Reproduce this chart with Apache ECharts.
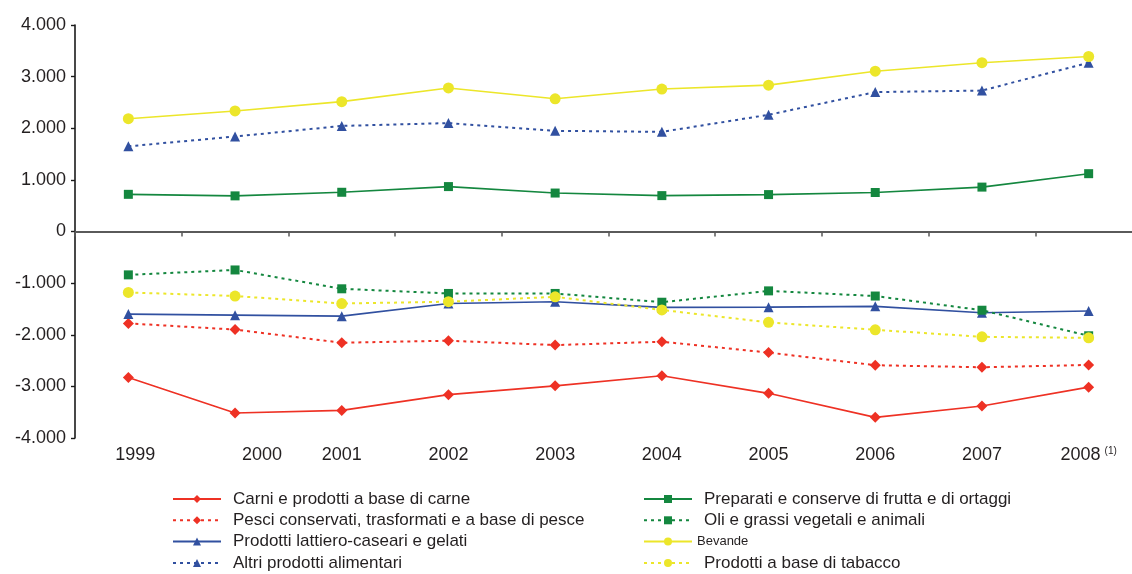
<!DOCTYPE html>
<html>
<head>
<meta charset="utf-8">
<script src="https://cdn.jsdelivr.net/npm/echarts@6/dist/echarts.min.js"></script>
<style>
html,body{margin:0;padding:0;background:#fff;}
#chart{width:1132px;height:574px;}
</style>
</head>
<body>
<div id="chart"></div>
<script>
const years = ['1999','2000','2001','2002','2003','2004','2005','2006','2007','2008'];
const yTicks = {min: -4000, max: 4000, interval: 1000};

const carni      = [-2830, -3515, -3465, -3160, -2990, -2795, -3135, -3600, -3380, -3015];
const pesci      = [-1780, -1900, -2155, -2115, -2200, -2135, -2345, -2590, -2630, -2585];
const lattiero   = [-1600, -1620, -1640, -1395, -1360, -1470, -1465, -1450, -1575, -1540];
const altri      = [1650, 1840, 2045, 2100, 1950, 1930, 2260, 2700, 2730, 3270];
const preparati  = [720, 690, 760, 870, 745, 695, 715, 755, 860, 1120];
const oli        = [-840, -745, -1110, -1200, -1200, -1370, -1150, -1250, -1525, -2020];
const bevande    = [2185, 2335, 2515, 2780, 2570, 2760, 2835, 3105, 3270, 3390];
const tabacco    = [-1180, -1250, -1395, -1360, -1265, -1520, -1760, -1905, -2040, -2060];

const names = {
  carni: 'Carni e prodotti a base di carne',
  pesci: 'Pesci conservati, trasformati e a base di pesce',
  lattiero: 'Prodotti lattiero-caseari e gelati',
  altri: 'Altri prodotti alimentari',
  preparati: 'Preparati e conserve di frutta e di ortaggi',
  oli: 'Oli e grassi vegetali e animali',
  bevande: 'Bevande',
  tabacco: 'Prodotti a base di tabacco'
};

const RED = '#ee3124', BLUE = '#3150a0', GREEN = '#14873f', YELLOW = '#ece62a';
const DOT = [3, 4];
const TXT = '#231f20';
const FONT = '"Liberation Sans", Arial, sans-serif';

function mk(name, data, color, symbol, size, dotted) {
  return {
    name: name, type: 'line', data: data,
    xAxisIndex: 0, yAxisIndex: 0,
    symbol: symbol, symbolSize: size,
    itemStyle: {color: color},
    lineStyle: {color: color, width: dotted ? 2 : 1.6, type: dotted ? DOT : 'solid'},
    emphasis: {disabled: true},
    animation: false
  };
}

function fmtThousands(v) {
  const neg = v < 0;
  let s = String(Math.abs(v));
  s = s.replace(/\B(?=(\d{3})+(?!\d))/g, '.');
  return (neg ? '-' : '') + s;
}

const labelData = years.map(function (y, i) {
  if (i === 0) return {value: y, textStyle: {padding: [0, 0, 0, 14]}};
  if (i === 1) return {value: y, textStyle: {padding: [0, 0, 0, 54]}};
  return y;
});

const legendText = {fontSize: 17, lineHeight: 18, color: TXT, fontFamily: FONT, padding: [0, 0, 0, 7]};

const chart = echarts.init(document.getElementById('chart'), null, {renderer: 'canvas'});
chart.setOption({
  backgroundColor: '#fff',
  animation: false,
  textStyle: {fontFamily: FONT, color: TXT},
  grid: {left: 75, right: -10, top: 25, bottom: 136, containLabel: false, outerBoundsMode: 'none'},
  xAxis: [
    {
      type: 'category', data: years, boundaryGap: true, position: 'bottom',
      axisLine: {onZero: true, lineStyle: {color: '#5a5a5a', width: 1.8}},
      axisTick: {show: true, length: 5, lineStyle: {color: '#5a5a5a', width: 1.5}},
      axisLabel: {show: false},
      splitLine: {show: false}
    },
    {
      type: 'category', data: labelData, boundaryGap: true, position: 'bottom', offset: 0,
      axisLine: {show: false, onZero: false},
      axisTick: {show: false},
      axisLabel: {
        interval: 0, margin: 8, fontSize: 18, color: TXT, fontFamily: FONT,
        formatter: function (v) { return v === '2008' ? v + '{sup|(1)}' : v; },
        rich: {sup: {fontSize: 10, verticalAlign: 'top', padding: [0, 0, 8, 4], color: TXT, fontFamily: FONT}}
      },
      splitLine: {show: false}
    }
  ],
  yAxis: {
    type: 'value', min: yTicks.min, max: yTicks.max, interval: yTicks.interval,
    axisLine: {show: true, onZero: false, lineStyle: {color: '#1a1a1a', width: 1.6}},
    axisTick: {show: true, length: 4, lineStyle: {color: '#1a1a1a', width: 1.4}},
    axisLabel: {fontSize: 18, color: TXT, margin: 9, fontFamily: FONT, formatter: fmtThousands},
    splitLine: {show: false}
  },
  legend: [
    {
      orient: 'vertical', left: 172, top: 490, padding: 0, height: 84,
      itemWidth: 48, itemHeight: 10, itemGap: 3.3,
      textStyle: legendText,
      data: [names.carni, names.pesci, names.lattiero, names.altri],
      selectedMode: false
    },
    {
      orient: 'vertical', left: 643, top: 490, padding: 0, height: 84,
      itemWidth: 48, itemHeight: 10, itemGap: 3.3,
      textStyle: legendText,
      data: [names.preparati, names.oli,
             {name: names.bevande, textStyle: {fontSize: 13, lineHeight: 18, padding: [0, 0, 0, 0]}},
             names.tabacco],
      selectedMode: false
    }
  ],
  series: [
    mk(names.carni, carni, RED, 'diamond', 11, false),
    mk(names.pesci, pesci, RED, 'diamond', 11, true),
    mk(names.lattiero, lattiero, BLUE, 'triangle', 10, false),
    mk(names.altri, altri, BLUE, 'triangle', 10, true),
    mk(names.preparati, preparati, GREEN, 'rect', 9, false),
    mk(names.oli, oli, GREEN, 'rect', 9, true),
    mk(names.bevande, bevande, YELLOW, 'circle', 11, false),
    mk(names.tabacco, tabacco, YELLOW, 'circle', 11, true)
  ]
});
</script>
</body>
</html>
